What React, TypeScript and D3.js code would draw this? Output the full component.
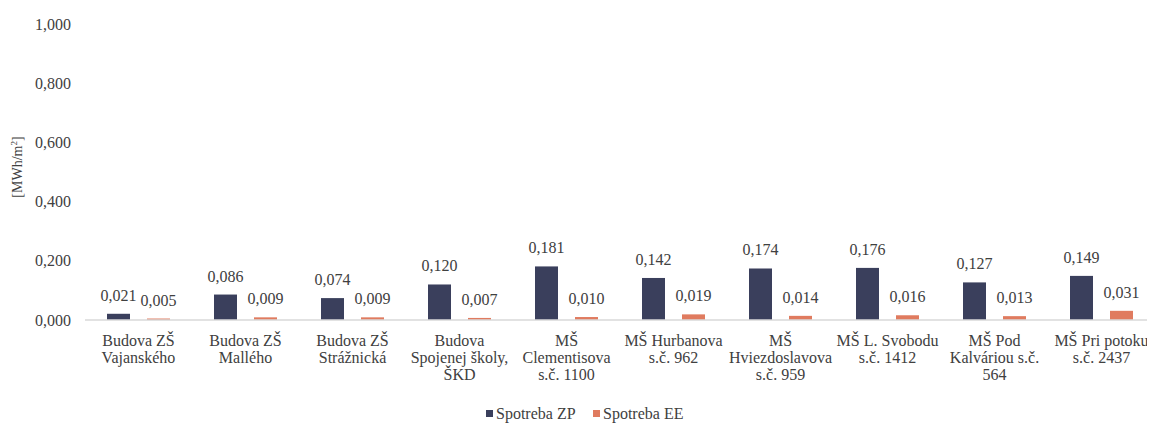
import React, { useEffect, useRef } from "react";
import * as d3 from "d3";

const categories: string[][] = [
  ["Budova ZŠ", "Vajanského"],
  ["Budova ZŠ", "Mallého"],
  ["Budova ZŠ", "Strážnická"],
  ["Budova", "Spojenej školy,", "ŠKD"],
  ["MŠ", "Clementisova", "s.č. 1100"],
  ["MŠ Hurbanova", "s.č. 962"],
  ["MŠ", "Hviezdoslavova", "s.č. 959"],
  ["MŠ L. Svobodu", "s.č. 1412"],
  ["MŠ Pod", "Kalváriou s.č.", "564"],
  ["MŠ Pri potoku", "s.č. 2437"],
];
const spotrebaZP = [0.021, 0.086, 0.074, 0.12, 0.181, 0.142, 0.174, 0.176, 0.127, 0.149];
const spotrebaEE = [0.005, 0.009, 0.009, 0.007, 0.01, 0.019, 0.014, 0.016, 0.013, 0.031];
const yTicks = [0, 0.2, 0.4, 0.6, 0.8, 1.0];
const seriesNames = ["Spotreba ZP", "Spotreba EE"];
const colors = ["#3a3f5c", "#e07b5f"];

const W = 1155;
const H = 423;
const FF = "Liberation Serif";

const fmt = (v: number) => v.toFixed(3).replace(".", ",");

export default function App() {
  const ref = useRef<SVGSVGElement>(null);

  useEffect(() => {
    const svg = d3.select(ref.current);
    svg.selectAll("*").remove();
    const x = d3.scaleBand<number>().domain(d3.range(categories.length)).range([85, 1155]).padding(0);
    const y = d3.scaleLinear().domain([0, 1]).range([320, 24]);
    const barW = 23;
    const offsets = [-20, 20];
    const series = [spotrebaZP, spotrebaEE];

    svg.append("rect").attr("width", W).attr("height", H).attr("fill", "#fff");

    const txt = (sel: any) =>
      sel.attr("font-family", FF).style("font-family", FF).attr("fill", "#404040");

    svg
      .append("g")
      .selectAll("text")
      .data(yTicks)
      .join("text")
      .attr("x", 71)
      .attr("y", (d: number) => y(d) + 5.5)
      .attr("text-anchor", "end")
      .attr("font-size", 16)
      .call(txt)
      .text((d: number) => fmt(d));

    const yt = svg
      .append("text")
      .attr("transform", "translate(22,167) rotate(-90)")
      .attr("text-anchor", "middle")
      .attr("font-size", 14)
      .call(txt);
    yt.append("tspan").text("[MWh/m");
    yt.append("tspan").attr("dy", -5).attr("font-size", 9).text("2");
    yt.append("tspan").attr("dy", 5).text("]");

    series.forEach((vals, s) => {
      const g = svg.append("g");
      const cx = (i: number) => x(i)! + x.bandwidth() / 2 + offsets[s];
      g.selectAll("rect")
        .data(vals)
        .join("rect")
        .attr("x", (_: number, i: number) => cx(i) - barW / 2)
        .attr("y", (d: number) => y(d))
        .attr("width", barW)
        .attr("height", (d: number) => y(0) - y(d))
        .attr("fill", colors[s]);
      g.selectAll("text")
        .data(vals)
        .join("text")
        .attr("x", (_: number, i: number) => cx(i))
        .attr("y", (d: number) => y(d) - 13)
        .attr("text-anchor", "middle")
        .attr("font-size", 16)
        .call(txt)
        .text((d: number) => fmt(d));
    });

    svg
      .append("line")
      .attr("x1", 85)
      .attr("x2", 1152)
      .attr("y1", y(0))
      .attr("y2", y(0))
      .attr("stroke", "#d9d9d9")
      .attr("stroke-width", 1.5);

    categories.forEach((lines, i) => {
      const cx = x(i)! + x.bandwidth() / 2;
      const t = svg
        .append("text")
        .attr("x", cx)
        .attr("y", 346)
        .attr("text-anchor", "middle")
        .attr("font-size", 16)
        .call(txt);
      lines.forEach((l, j) => {
        t.append("tspan").attr("x", cx).attr("dy", j === 0 ? 0 : 17.2).text(l);
      });
    });

    seriesNames.forEach((n, s) => {
      const lx = [486, 593][s];
      svg.append("rect").attr("x", lx).attr("y", 410).attr("width", 7).attr("height", 7).attr("fill", colors[s]);
      svg
        .append("text")
        .attr("x", lx + 10)
        .attr("y", 419)
        .attr("font-size", 16)
        .call(txt)
        .text(n);
    });
  }, []);

  return (
    <svg
      ref={ref}
      width={W}
      height={H}
      style={{ display: "block", marginLeft: -8, marginTop: -8, fontFamily: FF }}
    />
  );
}
